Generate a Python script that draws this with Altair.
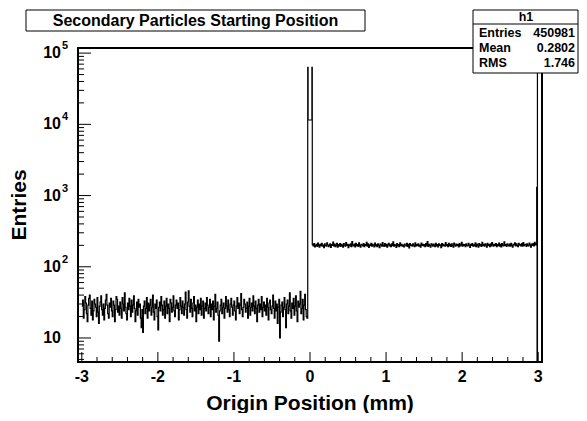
import altair as alt
import pandas as pd

# ---------------- data ----------------
BIN_W = 0.01
LEFT_START = -3.0
left_counts = [
    28, 34, 19, 25, 38, 31, 22, 17, 29, 36, 40, 26, 21, 33, 18, 24, 35, 30, 27, 20,
    37, 23, 16, 28, 32, 39, 25, 21, 30, 18, 26, 34, 41, 29, 22, 19, 31, 27, 36, 24,
    20, 33, 29, 17, 25, 38, 35, 23, 28, 21, 32, 26, 19, 37, 30, 24, 43, 27, 22, 18,
    31, 25, 36, 28, 20, 34, 23, 29, 39, 26, 17, 24, 32, 21, 35, 27, 30, 19, 14, 25,
    12, 28, 33, 22, 26, 37, 19, 31, 24, 29, 35, 21, 27, 40, 23, 18, 30, 26, 34, 20,
    13, 27, 32, 24, 38, 29, 21, 25, 33, 19, 28, 36, 22, 30, 26, 17, 35, 31, 23, 27,
    39, 24, 20, 29, 34, 26, 31, 18, 25, 37, 28, 22, 33, 27, 21, 30, 44, 25, 19, 32,
    46, 28, 23, 35, 26, 20, 31, 38, 24, 29, 17, 27, 34, 22, 30, 25, 36, 21, 28, 33,
    19, 26, 31, 24, 37, 29, 22, 27, 35, 20, 30, 25, 33, 18, 28, 41, 23, 26, 32, 21,
    9, 24, 29, 35, 22, 27, 31, 19, 26, 38, 28, 23, 34, 25, 20, 30, 36, 27, 21, 29,
    33, 24, 18, 28, 37, 26, 31, 22, 29, 42, 25, 20, 27, 35, 30, 23, 26, 32, 19, 28,
    36, 21, 27, 31, 24, 39, 28, 22, 33, 26, 17, 29, 35, 23, 30, 25, 38, 20, 27, 32,
    24, 29, 21, 36, 27, 18, 31, 34, 25, 22, 28, 40, 26, 19, 33, 24, 30, 16, 27, 35,
    10, 23, 29, 32, 20, 27, 37, 25, 14, 30, 34, 22, 28, 43, 24, 19, 31, 26, 36, 21,
    28, 39, 24, 17, 33, 27, 30, 45, 22, 26, 35, 18, 29, 41, 25, 20, 19,
]
spike_edges = [-0.03, -0.025, 0.025]
spike_counts = [63000, 11500, 63000]
RIGHT_START = 0.03
right_counts = [
    204, 196, 211, 190, 199, 207, 193, 215, 201, 188, 206, 198, 213, 195, 202, 186, 209, 200, 194, 217,
    203, 191, 198, 210, 187, 205, 199, 222, 196, 208, 192, 201, 214, 189, 204, 197, 211, 193, 206, 200,
    188, 212, 202, 195, 219, 199, 207, 185, 203, 196, 210, 192, 225, 201, 197, 208, 190, 214, 198, 205,
    193, 216, 200, 189, 207, 202, 196, 212, 191, 204, 199, 221, 194, 209, 187, 203, 198, 213, 195, 206,
    201, 190, 215, 197, 204, 192, 210, 199, 186, 208, 203, 195, 218, 200, 193, 211, 197, 206, 189, 202,
    214, 196, 203, 191, 209, 198, 224, 194, 205, 200, 187, 212, 197, 204, 192, 216, 199, 207, 195, 201,
    190, 208, 202, 197, 213, 193, 206, 184, 211, 199, 203, 195, 209, 201, 192, 217, 196, 205, 198, 210,
    194, 202, 189, 215, 200, 207, 196, 204, 191, 212, 198, 226, 193, 206, 199, 188, 210, 203, 195, 208,
    201, 192, 214, 197, 205, 190, 209, 199, 203, 186, 211, 196, 207, 200, 194, 219, 198, 204, 191, 213,
    197, 206, 193, 210, 200, 188, 215, 202, 195, 208, 199, 204, 190, 212, 196, 203, 221, 194, 207, 198,
    205, 191, 209, 199, 196, 214, 202, 187, 206, 200, 211, 194, 203, 197, 216, 192, 208, 201, 189, 212,
    198, 204, 193, 220, 200, 207, 195, 210, 202, 188, 213, 199, 205, 191, 209, 197, 218, 203, 194, 206,
    200, 211, 192, 204, 198, 215, 195, 207, 190, 212, 201, 196, 223, 199, 205, 193, 210, 202, 197, 208,
    194, 213, 200, 189, 206, 203, 217, 196, 209, 199, 192, 214, 201, 205, 197, 211, 195, 219, 198, 204,
    207, 193, 210, 200, 196, 215, 202, 188, 208, 199, 212, 197, 221, 203, 209,
]
end_edges = [2.98, 2.985, 2.99]
end_counts = [1300, 0.1, 300000]
LAST_EDGE = 3.06
EMPTY = 0.1

x_major = [-3, -2, -1, 0, 1, 2, 3]
x_labels = ["-3", "-2", "-1", "0", "1", "2", "3"]
y_major = [10, 100, 1000, 10000, 100000]
y_exponents = ["", "2", "3", "4", "5"]

title_text = "Secondary Particles Starting Position"
x_title = "Origin Position (mm)"
y_title = "Entries"
stats_name = "h1"
stats_keys = ["Entries", "Mean", "RMS"]
stats_vals = ["450981", "0.2802", "1.746"]

X_DOMAIN = [-3.05, 3.05]
Y_DOMAIN = [4.6, 118000]

# ---------------- build tables ----------------
rows = []
for i, c in enumerate(left_counts):
    rows.append((LEFT_START + i * BIN_W, c))
for e, c in zip(spike_edges, spike_counts):
    rows.append((e, c))
for i, c in enumerate(right_counts):
    rows.append((RIGHT_START + i * BIN_W, c))
for e, c in zip(end_edges, end_counts):
    rows.append((e, c))
rows.append((LAST_EDGE, EMPTY))
hist = pd.DataFrame(rows, columns=["x", "y"])
hist["i"] = range(len(hist))

x_minor = [round(-3 + 0.2 * k, 1) for k in range(31) if k % 5 != 0]
y_minor = [m * 10 ** d for d in range(0, 5) for m in range(2, 10)
           if Y_DOMAIN[0] <= m * 10 ** d <= Y_DOMAIN[1]]

FONT = "Liberation Sans"
W, H = 464, 314

xs = alt.Scale(domain=X_DOMAIN, nice=False, zero=False)
ys = alt.Scale(type="log", domain=Y_DOMAIN, nice=False)
X = alt.X("x:Q", scale=xs, axis=None)
Y = alt.Y("y:Q", scale=ys, axis=None)

one = pd.DataFrame({"k": [0]})

hist_line = alt.Chart(hist).mark_line(
    interpolate="step-after", clip=True, color="black", strokeWidth=1.2
).encode(x=X, y=Y, order="i:Q")

xmaj = alt.Chart(pd.DataFrame({"x": x_major})).mark_rule(color="black", strokeWidth=1).encode(
    x=X, y=alt.value(H), y2=alt.value(H - 10))
xmin = alt.Chart(pd.DataFrame({"x": x_minor})).mark_rule(color="black", strokeWidth=1).encode(
    x=X, y=alt.value(H), y2=alt.value(H - 5))
ymaj = alt.Chart(pd.DataFrame({"y": y_major})).mark_rule(color="black", strokeWidth=1).encode(
    y=Y, x=alt.value(0), x2=alt.value(13))
ymin = alt.Chart(pd.DataFrame({"y": y_minor})).mark_rule(color="black", strokeWidth=1).encode(
    y=Y, x=alt.value(0), x2=alt.value(6))

xlab = alt.Chart(pd.DataFrame({"x": x_major, "t": x_labels})).mark_text(
    font=FONT, fontSize=16, fontWeight="bold", baseline="middle", align="center", color="black"
).encode(x=X, y=alt.value(329), text="t:N")

ylab_base = alt.Chart(pd.DataFrame({"y": y_major})).mark_text(
    font=FONT, fontSize=16, fontWeight="bold", baseline="middle", align="right", color="black"
).encode(y=Y, x=alt.value(-17), text=alt.value("10"))
ylab_exp = alt.Chart(pd.DataFrame({"y": y_major, "e": y_exponents})).mark_text(
    font=FONT, fontSize=11, fontWeight="bold", baseline="middle", align="left", dy=-7, color="black"
).encode(y=Y, x=alt.value(-16), text="e:N")

xtitle = alt.Chart(one).mark_text(
    font=FONT, fontSize=21, fontWeight="bold", baseline="middle", align="center", color="black"
).encode(x=alt.value(W / 2), y=alt.value(356), text=alt.value(x_title))
ytitle = alt.Chart(one).mark_text(
    font=FONT, fontSize=21, fontWeight="bold", baseline="middle", align="center", angle=270, color="black"
).encode(x=alt.value(-58), y=alt.value(H / 2), text=alt.value(y_title))

title_box = alt.Chart(one).mark_rect(fill="white", stroke="black", strokeWidth=1).encode(
    x=alt.value(-52), x2=alt.value(287), y=alt.value(-38), y2=alt.value(-17))
title_txt = alt.Chart(one).mark_text(
    font=FONT, fontSize=16, fontWeight="bold", baseline="middle", align="center", color="black"
).encode(x=alt.value(117.5), y=alt.value(-27), text=alt.value(title_text))

stats_box = alt.Chart(one).mark_rect(fill="white", stroke="black", strokeWidth=1).encode(
    x=alt.value(395), x2=alt.value(500), y=alt.value(-38), y2=alt.value(25))
stats_sep = alt.Chart(one).mark_rule(color="black", strokeWidth=1).encode(
    x=alt.value(395), x2=alt.value(500), y=alt.value(-24))
stats_head = alt.Chart(one).mark_text(
    font=FONT, fontSize=12.5, fontWeight="bold", baseline="middle", align="center", color="black"
).encode(x=alt.value(448), y=alt.value(-31), text=alt.value(stats_name))
stats_df = pd.DataFrame({"k": stats_keys, "v": stats_vals})
stats_df["py"] = [-15, 0, 15]
stats_keys_t = alt.Chart(stats_df).mark_text(
    font=FONT, fontSize=12.5, fontWeight="bold", baseline="middle", align="left", color="black"
).encode(x=alt.value(401), y=alt.Y("py:Q", scale=None), text="k:N")
stats_vals_t = alt.Chart(stats_df).mark_text(
    font=FONT, fontSize=12.5, fontWeight="bold", baseline="middle", align="right", color="black"
).encode(x=alt.value(497), y=alt.Y("py:Q", scale=None), text="v:N")

chart = alt.layer(
    hist_line, xmaj, xmin, ymaj, ymin, xlab, ylab_base, ylab_exp, xtitle, ytitle,
    title_box, title_txt, stats_box, stats_sep, stats_head, stats_keys_t, stats_vals_t
).properties(
    width=W, height=H, autosize="none",
    padding={"left": 70, "top": 40, "right": 37, "bottom": 51},
).configure_view(stroke="black", strokeWidth=2).resolve_scale(y="shared", x="shared")

chart.save("out.html", embed_options={"renderer": "svg", "actions": False})
